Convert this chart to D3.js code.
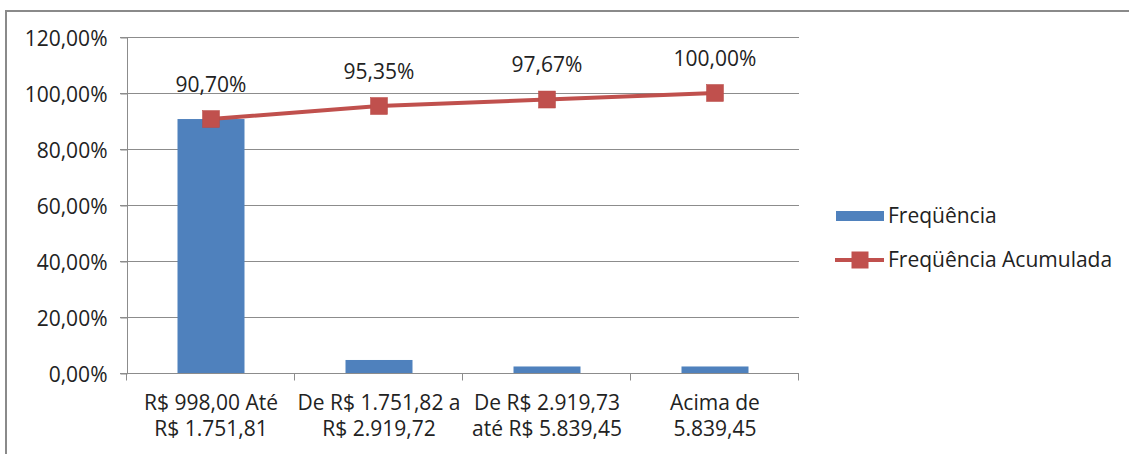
<!DOCTYPE html>
<html>
<head>
<meta charset="utf-8">
<title>Frequência</title>
<style>
  body { margin: 0; background: #fff; }
  text { font-family: "Open Sans", "Noto Sans", sans-serif; fill: #222; }
</style>
</head>
<body>
<script src="https://d3js.org/d3.v7.min.js"></script>
<script>
// chart data
const categories = [
  ["R$ 998,00 Até", "R$ 1.751,81"],
  ["De R$ 1.751,82 a", "R$ 2.919,72"],
  ["De R$ 2.919,73", "até R$ 5.839,45"],
  ["Acima de", "5.839,45"]
];
const frequencia = [90.70, 4.65, 2.33, 2.33];
const acumulada = [90.70, 95.35, 97.67, 100.00];
const yTicks = [0, 20, 40, 60, 80, 100, 120];
const seriesNames = ["Freqüência", "Freqüência Acumulada"];

const barColor = "#4F81BD";
const lineColor = "#C0504D";
const gridColor = "#8c8c8c";
const fs = 21;

const width = 1129, height = 454;
const fmt = v => v.toFixed(2).replace(".", ",") + "%";

const svg = d3.select("body").append("svg")
    .attr("width", width)
    .attr("height", height);

// outer chart border (only left and top visible in the picture)
svg.append("path")
    .attr("d", "M6,460 V11 H1135")
    .attr("fill", "none")
    .attr("stroke", "#8a8a8a")
    .attr("stroke-width", 2);

const band = d3.scaleBand()
    .domain(d3.range(categories.length))
    .range([127, 799]);

const y = d3.scaleLinear()
    .domain([0, 120])
    .range([373, 37]);

// gridlines
svg.append("g")
  .selectAll("line")
  .data(yTicks.filter(d => d > 0))
  .join("line")
    .attr("x1", 120)
    .attr("x2", 799)
    .attr("y1", d => y(d) + 0.5)
    .attr("y2", d => y(d) + 0.5)
    .attr("stroke", gridColor);

// y axis
const yAxis = svg.append("g")
    .attr("transform", "translate(127.5,0.5)")
    .call(d3.axisLeft(y).tickValues(yTicks).tickFormat(fmt).tickSize(7).tickPadding(13));
yAxis.select(".domain").attr("stroke", gridColor).attr("d", "M0," + y(120) + "V" + y(0));
yAxis.selectAll(".tick line").attr("stroke", gridColor);
yAxis.selectAll(".tick text")
    .attr("font-size", fs)
    .attr("font-family", "Open Sans, sans-serif")
    .attr("fill", "#222")
    .attr("dy", 7.5);

// bars
svg.append("g")
  .selectAll("rect")
  .data(frequencia)
  .join("rect")
    .attr("x", (d, i) => band(i) + band.bandwidth() / 2 - 33.5)
    .attr("width", 67)
    .attr("y", d => y(d))
    .attr("height", d => y(0) - y(d))
    .attr("fill", barColor);

// x axis
const xAxisG = svg.append("g").attr("transform", "translate(0,373.5)");
xAxisG.append("line")
    .attr("x1", 120).attr("x2", 799)
    .attr("stroke", gridColor);
xAxisG.selectAll("line.tk")
  .data(d3.range(categories.length + 1))
  .join("line")
    .attr("class", "tk")
    .attr("x1", i => (i < categories.length ? band(i) : 799) - 0.5)
    .attr("x2", i => (i < categories.length ? band(i) : 799) - 0.5)
    .attr("y1", 0).attr("y2", 7)
    .attr("stroke", gridColor);
const xl = xAxisG.selectAll("text")
  .data(categories)
  .join("text")
    .attr("text-anchor", "middle")
    .attr("font-size", fs);
xl.append("tspan").attr("x", (d, i) => band(i) + band.bandwidth() / 2).attr("y", 36).text(d => d[0]);
xl.append("tspan").attr("x", (d, i) => band(i) + band.bandwidth() / 2).attr("y", 62).text(d => d[1]);

// cumulative line
const cx = i => band(i) + band.bandwidth() / 2;
svg.append("path")
    .datum(acumulada)
    .attr("fill", "none")
    .attr("stroke", lineColor)
    .attr("stroke-width", 4)
    .attr("d", d3.line().x((d, i) => cx(i)).y(d => y(d)));

svg.append("g")
  .selectAll("rect")
  .data(acumulada)
  .join("rect")
    .attr("x", (d, i) => cx(i) - 8.5)
    .attr("y", d => y(d) - 8.5)
    .attr("width", 17)
    .attr("height", 17)
    .attr("fill", lineColor)
    .attr("stroke", "#b84844")
    .attr("stroke-width", 0.5);

svg.append("g")
  .selectAll("text")
  .data(acumulada)
  .join("text")
    .attr("x", (d, i) => cx(i))
    .attr("y", d => y(d) - 27.5)
    .attr("text-anchor", "middle")
    .attr("font-size", fs)
    .text(fmt);

// legend
const leg = svg.append("g");
leg.append("rect")
    .attr("x", 836).attr("y", 211)
    .attr("width", 48).attr("height", 10)
    .attr("fill", barColor);
leg.append("text")
    .attr("x", 888).attr("y", 223)
    .attr("font-size", fs)
    .text(seriesNames[0]);
leg.append("line")
    .attr("x1", 835).attr("x2", 884)
    .attr("y1", 260).attr("y2", 260)
    .attr("stroke", lineColor)
    .attr("stroke-width", 4);
leg.append("rect")
    .attr("x", 851.5).attr("y", 251.5)
    .attr("width", 17).attr("height", 17)
    .attr("fill", lineColor);
leg.append("text")
    .attr("x", 888).attr("y", 267)
    .attr("font-size", fs)
    .text(seriesNames[1]);
</script>
</body>
</html>
